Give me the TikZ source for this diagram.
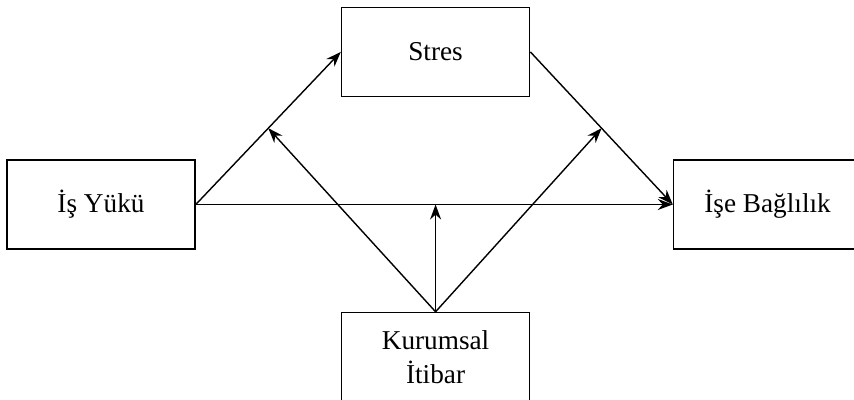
\documentclass[tikz,border=0pt]{standalone}
\usepackage{fontspec}
\setmainfont{Liberation Serif}
\usetikzlibrary{arrows.meta,positioning}
\tikzset{
  kutu/.style={draw,line width=0.9pt,minimum width=3.76cm,minimum height=1.78cm,
    inner sep=2pt,align=center,font=\fontsize{15.5}{19}\selectfont},
  nyil/.style={line width=0.8pt,-{Stealth[length=3mm,width=2.2mm]}},
}
\begin{document}
\begin{tikzpicture}
  \useasboundingbox (0,0) rectangle (17.08,8);
  \node[kutu] (yuk) at (2.02,3.91) {İş Yükü};
  \node[kutu,above right=1.24cm and 2.9cm of yuk] (stres) {Stres};
  \node[kutu,below right=1.24cm and 2.9cm of yuk] (itibar) {Kurumsal\\ İtibar};
  \node[kutu,right=9.54cm of yuk] (bag) {İşe Bağlılık};
  % ana yollar
  \draw[nyil] (yuk.east) -- coordinate[pos=0.5] (m1) (stres.west);
  \draw[nyil] (stres.east) -- coordinate[pos=0.5] (m2) (bag.west);
  \draw[nyil] (yuk.east) -- coordinate[pos=0.5] (m3) (bag.west);
  % duzenleyici etki
  \draw[nyil] (itibar.north) -- (m1);
  \draw[nyil] (itibar.north) -- (m2);
  \draw[nyil] (itibar.north) -- (itibar.north |- m3);
\end{tikzpicture}
\end{document}
